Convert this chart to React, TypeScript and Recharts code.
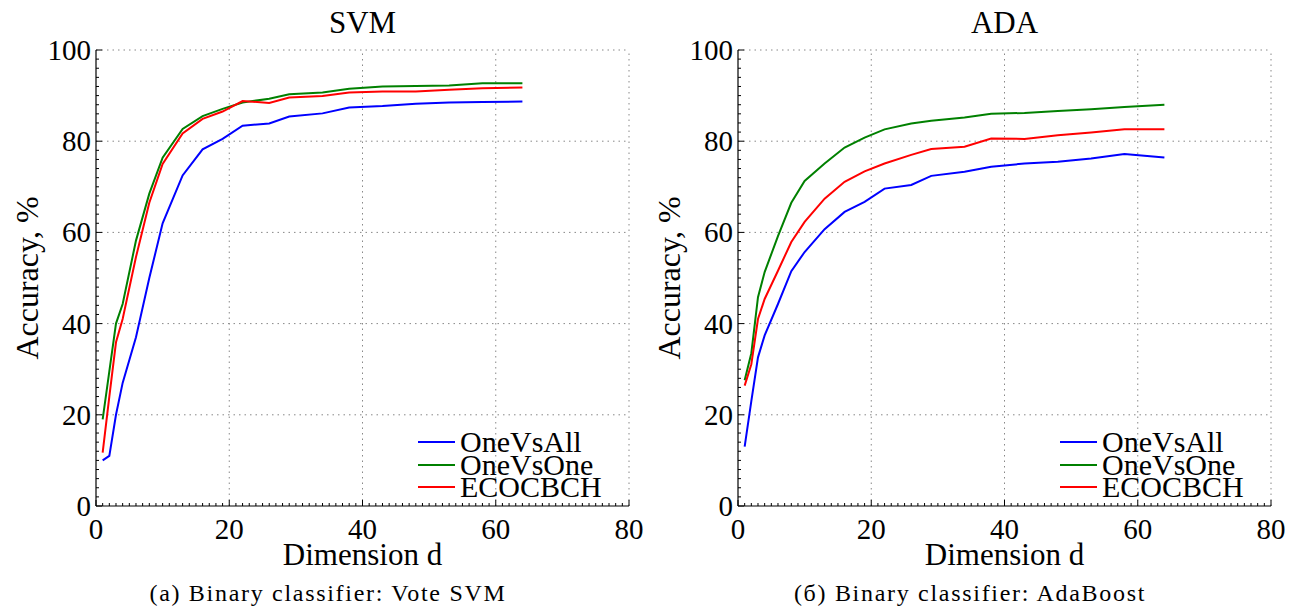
import { LineChart, Line, XAxis, YAxis, ReferenceLine, Legend } from 'recharts';

const dims = [1, 2, 3, 4, 6, 8, 10, 13, 16, 19, 22, 26, 29, 34, 38, 43, 48, 53, 58, 64];

const svmOneVsAll = [10, 11, 20, 27, 37, 50, 62, 72.5, 78.2, 80.5, 83.4, 83.9, 85.4, 86.1, 87.4, 87.7, 88.2, 88.5, 88.6, 88.7];
const svmOneVsOne = [19, 29.5, 40, 44.3, 58.2, 68.5, 76.4, 82.7, 85.5, 87.1, 88.5, 89.3, 90.3, 90.7, 91.5, 92.0, 92.1, 92.2, 92.7, 92.7];
const svmEcoc = [11.7, 24, 35.9, 41, 54.6, 66.5, 75, 81.7, 84.9, 86.5, 88.8, 88.4, 89.6, 89.9, 90.7, 90.9, 90.9, 91.3, 91.6, 91.8];

const adaOneVsAll = [13, 23, 32.6, 37.4, 44.3, 51.5, 55.7, 60.7, 64.5, 66.7, 69.6, 70.4, 72.4, 73.3, 74.4, 75.1, 75.5, 76.2, 77.2, 76.4];
const adaOneVsOne = [27.6, 33.5, 45.8, 51.3, 59.2, 66.5, 71.3, 75.1, 78.6, 80.8, 82.6, 83.9, 84.5, 85.2, 86.0, 86.2, 86.6, 87.0, 87.5, 88.0];
const adaEcoc = [26.4, 31.1, 41, 45.4, 51.6, 57.9, 62.3, 67.4, 71.1, 73.4, 75.1, 77.0, 78.3, 78.8, 80.6, 80.5, 81.3, 81.9, 82.6, 82.6];

const xGrid = [20, 40, 60, 80];
const yGrid = [20, 40, 60, 80, 100];
const xMinor = Array.from({ length: 81 }, (_, i) => i);
const yMinor = Array.from({ length: 51 }, (_, i) => i * 2);

const seriesNames = ['OneVsAll', 'OneVsOne', 'ECOCBCH'];
const seriesKeys = ['oneVsAll', 'oneVsOne', 'ecoc'];
const seriesColors = ['#0000ff', '#008000', '#ff0000'];

const FONT = '"Liberation Serif", "Times New Roman", serif';

const buildRows = (a: number[], b: number[], c: number[]) =>
  dims.map((d, i) => ({ d, oneVsAll: a[i], oneVsOne: b[i], ecoc: c[i] }));

// minor ticks every unit, labels only on the majors
const XTick = (props: any) => {
  const { x, y, payload } = props;
  const major = payload.value % 20 === 0;
  return (
    <g>
      <line x1={x} y1={y} x2={x} y2={y - (major ? 6 : 3)} stroke="#000" strokeWidth={1} />
      {major && (
        <text x={x} y={y + 33} textAnchor="middle" style={{ fontSize: 29, fontFamily: FONT }} fill="#000">
          {payload.value}
        </text>
      )}
    </g>
  );
};

const YTick = (props: any) => {
  const { x, y, payload } = props;
  const major = payload.value % 20 === 0;
  return (
    <g>
      <line x1={x} y1={y} x2={x + (major ? 6 : 3)} y2={y} stroke="#000" strokeWidth={1} />
      {major && (
        <text x={x - 5} y={y + 10} textAnchor="end" style={{ fontSize: 29, fontFamily: FONT }} fill="#000">
          {payload.value}
        </text>
      )}
    </g>
  );
};

const LegendBox = () => (
  <div style={{ fontFamily: FONT, fontSize: 30, lineHeight: '22.5px', color: '#000' }}>
    {seriesNames.map((n, i) => (
      <div key={n} style={{ display: 'flex', alignItems: 'center', whiteSpace: 'nowrap' }}>
        <span style={{ display: 'inline-block', width: 37, height: 2, background: seriesColors[i], marginRight: 5 }} />
        <span>{n}</span>
      </div>
    ))}
  </div>
);

type PanelProps = {
  title: string;
  caption: string;
  rows: { d: number; oneVsAll: number; oneVsOne: number; ecoc: number }[];
  left: number;
};

const Panel = ({ title, caption, rows, left }: PanelProps) => {
  return (
    <div style={{ position: 'absolute', left, top: 0, width: 648, height: 610 }}>
      <LineChart width={648} height={610} data={rows} margin={{ top: 50, right: 19, left: 0, bottom: 0 }}>
        {xGrid.map((v) => (
          <ReferenceLine key={'x' + v} x={v} stroke="#888" strokeDasharray="1.5 4" />
        ))}
        {yGrid.map((v) => (
          <ReferenceLine key={'y' + v} y={v} stroke="#888" strokeDasharray="1.5 4" />
        ))}
        <XAxis
          dataKey="d"
          type="number"
          domain={[0, 80]}
          ticks={xMinor}
          interval={0}
          height={104}
          tickSize={0}
          tickMargin={0}
          tickLine={false}
          tick={<XTick />}
          axisLine={{ stroke: '#000', strokeWidth: 1.2 }}
          label={{
            content: (p: any) => {
              const vb = p.viewBox;
              return (
                <text
                  x={vb.x + vb.width / 2}
                  y={vb.y + 59}
                  textAnchor="middle"
                  style={{ fontSize: 31, fontFamily: FONT }}
                  fill="#000"
                >
                  Dimension d
                </text>
              );
            },
          }}
        />
        <YAxis
          type="number"
          domain={[0, 100]}
          ticks={yMinor}
          interval={0}
          width={96}
          tickSize={0}
          tickMargin={0}
          tickLine={false}
          tick={<YTick />}
          axisLine={{ stroke: '#000', strokeWidth: 1.2 }}
          label={{
            content: (p: any) => {
              const vb = p.viewBox;
              const cy = vb.y + vb.height / 2;
              return (
                <text
                  x={27}
                  y={cy}
                  transform={`rotate(-90, 27, ${cy})`}
                  textAnchor="middle"
                  dominantBaseline="central"
                  style={{ fontSize: 32, fontFamily: FONT }}
                  fill="#000"
                >
                  Accuracy, %
                </text>
              );
            },
          }}
        />
        <Legend
          layout="vertical"
          align="center"
          verticalAlign="middle"
          content={<LegendBox />}
          wrapperStyle={{ left: 418, top: 431, width: 'auto' }}
        />
        {seriesKeys.map((k, i) => (
          <Line
            key={k}
            dataKey={k}
            name={seriesNames[i]}
            type="linear"
            stroke={seriesColors[i]}
            strokeWidth={2}
            dot={false}
            isAnimationActive={false}
          />
        ))}
      </LineChart>
      <div
        style={{
          position: 'absolute',
          left: 96,
          width: 533,
          top: 4,
          textAlign: 'center',
          fontFamily: FONT,
          fontSize: 31,
          lineHeight: '38px',
        }}
      >
        {title}
      </div>
      <div
        style={{
          position: 'absolute',
          left: 0,
          width: 656,
          top: 578,
          textAlign: 'center',
          fontFamily: FONT,
          fontSize: 24,
          letterSpacing: 1.7,
          lineHeight: '30px',
          whiteSpace: 'nowrap',
        }}
      >
        {caption}
      </div>
    </div>
  );
};

const App = () => {
  return (
    <div style={{ position: 'relative', width: 1297, height: 610, background: '#fff' }}>
      <style>{`body{margin:0}`}</style>
      <Panel title="SVM" caption="(a) Binary classifier: Vote SVM" rows={buildRows(svmOneVsAll, svmOneVsOne, svmEcoc)} left={0} />
      <Panel title="ADA" caption="(б) Binary classifier: AdaBoost" rows={buildRows(adaOneVsAll, adaOneVsOne, adaEcoc)} left={642} />
    </div>
  );
};

export default App;
